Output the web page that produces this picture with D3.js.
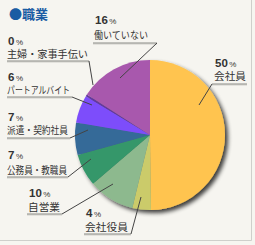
<!DOCTYPE html>
<html>
<head>
<meta charset="utf-8">
<script src="https://cdn.jsdelivr.net/npm/d3@7"></script>
<style>
  body { margin: 0; background: #f6f5f0; }
  .name { font-family: "Noto Sans CJK JP", sans-serif; font-size: 10px; fill: #333; }
  .pct { font-family: "Liberation Sans", Arial, sans-serif; font-weight: bold; font-size: 11.5px; fill: #333; }
  .pctSign { font-family: "Liberation Sans", sans-serif; font-weight: normal; font-size: 8px; }
  .title { font-family: "Noto Sans CJK JP", sans-serif; font-weight: bold; font-size: 13px; fill: #1a5ca3; }
</style>
</head>
<body>
<div id="chart"></div>
<script>
// data, clockwise from 12 o'clock
let categories = ["会社員", "会社役員", "自営業", "公務員・教職員", "派遣・契約社員", "パートアルバイト", "主婦・家事手伝い", "働いていない"];
let values = [50, 4, 10, 7, 7, 6, 0.4, 16];
let colors = ["#ffc44f", "#cbcb6a", "#8db98e", "#34976a", "#346a98", "#7d4dfb", "#62389e", "#a858ad"];

// label layout: text x, width, pct baseline, name baseline, underline y/x range, leader end
let labelLayout = [
  {x: 214, w: 32, py: 67, ny: 80, ly: 84, x1: 212, x2: 247, lx: 212, ex: 199, ey: 105},
  {x: 85, w: 43, py: 217, ny: 231, ly: 234, x1: 84, x2: 131, lx: 131, ex: 141, ey: 197},
  {x: 28, w: 32, py: 197, ny: 211, ly: 214, x1: 27, x2: 62, lx: 62, ex: 113, ey: 184},
  {x: 7, w: 60, py: 159, ny: 174, ly: 177, x1: 7, x2: 68, lx: 68, ex: 91, ey: 159},
  {x: 7, w: 61, py: 121, ny: 134, ly: 138, x1: 7, x2: 70, lx: 70, ex: 88, ey: 130},
  {x: 7, w: 63, py: 81, ny: 94, ly: 97, x1: 7, x2: 72, lx: 72, ex: 92, ey: 105},
  {x: 7, w: 81, py: 45, ny: 58, ly: 61, x1: 7, x2: 89, lx: 89, ex: 93, ey: 85},
  {x: 94, w: 54, py: 24, ny: 39, ly: 43, x1: 93, x2: 157, lx: 157, ex: 120, ey: 78}
];

let width = 255, height = 245;
let cx = 150, cy = 135, radius = 75;

let svg = d3.select("#chart").append("svg")
  .attr("width", width)
  .attr("height", height);

svg.append("rect").attr("width", width).attr("height", height).attr("fill", "#f6f5f0");

// frame (right + bottom edges)
svg.append("line").attr("x1", 251.5).attr("x2", 251.5).attr("y1", 0).attr("y2", 240.5)
  .attr("stroke", "#cfcfcb").attr("stroke-width", 1);
svg.append("line").attr("x1", 0).attr("x2", 251.5).attr("y1", 240.5).attr("y2", 240.5)
  .attr("stroke", "#cfcfcb").attr("stroke-width", 1);

// shadow filter
let defs = svg.append("defs");
let filter = defs.append("filter").attr("id", "shadow")
  .attr("x", "-20%").attr("y", "-20%").attr("width", "150%").attr("height", "150%");
filter.append("feGaussianBlur").attr("in", "SourceAlpha").attr("stdDeviation", 2);
filter.append("feOffset").attr("dx", 3).attr("dy", 3).attr("result", "blur");
filter.append("feComponentTransfer").append("feFuncA").attr("type", "linear").attr("slope", 0.75);
let merge = filter.append("feMerge");
merge.append("feMergeNode");
merge.append("feMergeNode").attr("in", "SourceGraphic");

let pie = d3.pie().sort(null).value(d => d);
let arc = d3.arc().innerRadius(0).outerRadius(radius);
let arcs = pie(values);

let pieGroup = svg.append("g")
  .attr("transform", `translate(${cx}, ${cy})`)
  .attr("filter", "url(#shadow)");

pieGroup.selectAll("path")
  .data(arcs)
  .enter().append("path")
  .attr("d", arc)
  .attr("fill", (d, i) => colors[i]);

// title
svg.append("text").attr("class", "title").attr("x", 9).attr("y", 19).text("●職業");

// labels
let labels = svg.append("g");
labelLayout.forEach(function (p, i) {
  let t = labels.append("text").attr("class", "pct").attr("x", p.x + 1).attr("y", p.py);
  t.append("tspan").text(Math.round(values[i]));
  t.append("tspan").attr("class", "pctSign").attr("dx", 1.5).text("%");

  labels.append("text").attr("class", "name")
    .attr("x", p.x).attr("y", p.ny)
    .attr("textLength", p.w)
    .attr("lengthAdjust", "spacingAndGlyphs")
    .text(categories[i]);

  labels.append("line")
    .attr("x1", p.x1).attr("x2", p.x2).attr("y1", p.ly + 1).attr("y2", p.ly + 1)
    .attr("stroke", "#cfcfca").attr("stroke-width", 1);
  labels.append("line")
    .attr("x1", p.x1).attr("x2", p.x2).attr("y1", p.ly).attr("y2", p.ly)
    .attr("stroke", "#8a8a86").attr("stroke-width", 1);
  labels.append("line")
    .attr("x1", p.lx).attr("x2", p.ex).attr("y1", p.ly).attr("y2", p.ey)
    .attr("stroke", "#444").attr("stroke-width", 1);
});
</script>
</body>
</html>
